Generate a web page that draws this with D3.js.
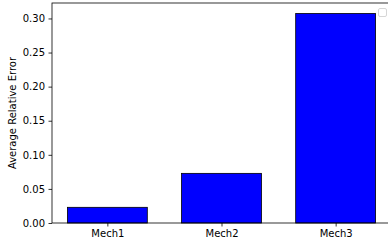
<!DOCTYPE html>
<html>
<head>
<meta charset="utf-8">
<script src="https://cdn.jsdelivr.net/npm/d3@7"></script>
<style>
  body { margin: 0; background: #fff; }
  svg { display: block; font-family: "DejaVu Sans", sans-serif; }
</style>
</head>
<body>
<div id="container"></div>
<script>
const w = 388;
const h = 244;

const categories = ["Mech1", "Mech2", "Mech3"];
const errors = [0.023, 0.0728, 0.3073];
const yTicks = [0, 0.05, 0.10, 0.15, 0.20, 0.25, 0.30];

const padLeft = 52, padRight = 391, padTop = 3, padBottom = 223;
const barWidth = 0.7;

const svg = d3.select("#container").append("svg")
              .attr("width", w).attr("height", h);

const x = d3.scaleLinear()
            .domain([-0.485, 2.485])
            .range([padLeft, padRight]);
const y = d3.scaleLinear()
            .domain([0, 0.3073 * 1.05])
            .range([padBottom, padTop]);

// bars
svg.selectAll("rect.bar").data(errors).enter().append("rect")
   .attr("class", "bar")
   .attr("x", (d, i) => x(i - barWidth / 2))
   .attr("y", d => y(d))
   .attr("width", x(barWidth) - x(0))
   .attr("height", d => y(0) - y(d))
   .attr("fill", "#0000ff")
   .attr("stroke", "#000")
   .attr("stroke-width", 0.8);

// axes
const xAxis = d3.axisBottom(x)
    .tickValues(categories.map((c, i) => i))
    .tickFormat(i => categories[i])
    .tickSize(3.5).tickPadding(3.5);
const yAxis = d3.axisLeft(y)
    .tickValues(yTicks)
    .tickFormat(d3.format(".2f"))
    .tickSize(3.5).tickPadding(3.5);

const gx = svg.append("g")
   .attr("transform", "translate(0," + padBottom + ")")
   .call(xAxis);
const gy = svg.append("g")
   .attr("transform", "translate(" + padLeft + ",0)")
   .call(yAxis);

[gx, gy].forEach(g => {
  g.select(".domain").remove();
  g.selectAll("text").attr("font-size", 10).attr("fill", "#000")
   .attr("font-family", "DejaVu Sans, sans-serif");
  g.selectAll("line").attr("stroke", "#000").attr("stroke-width", 0.8);
});

// spines
svg.append("rect")
   .attr("x", padLeft).attr("y", padTop)
   .attr("width", padRight - padLeft).attr("height", padBottom - padTop)
   .attr("fill", "none").attr("stroke", "#000").attr("stroke-width", 0.8);

// y label
svg.append("text")
   .attr("transform", "translate(13," + ((padTop + padBottom) / 2) + ") rotate(-90)")
   .attr("text-anchor", "middle")
   .attr("dominant-baseline", "middle")
   .attr("font-size", 10)
   .text("Average Relative Error");

// empty legend box
svg.append("rect")
   .attr("x", 378.5).attr("y", 8.5)
   .attr("width", 8).attr("height", 8)
   .attr("rx", 1.5)
   .attr("fill", "#fff").attr("stroke", "#ccc").attr("stroke-width", 0.8);
</script>
</body>
</html>
